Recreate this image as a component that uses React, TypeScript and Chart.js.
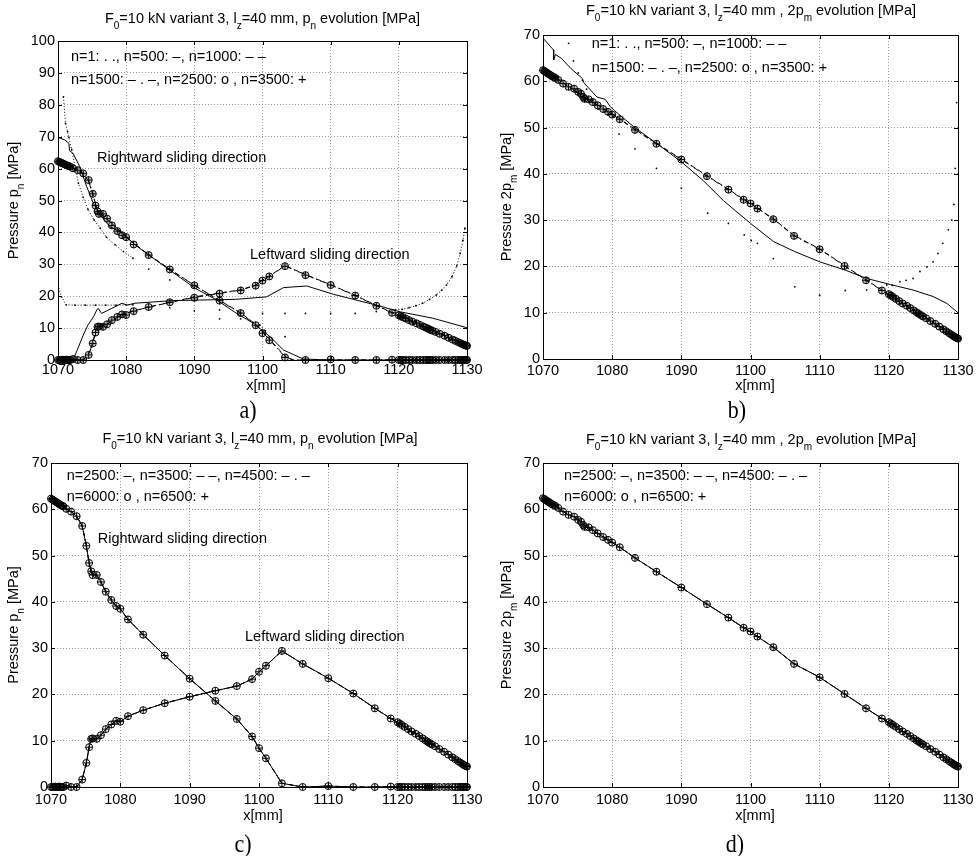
import React, { useEffect, useRef } from "react";
import { Chart, registerables } from "chart.js";

Chart.register(...registerables);

const W = 979;
const H = 856;
const SANS = "'Liberation Sans', Arial, Helvetica, sans-serif";
const SERIF = "'Liberation Serif', 'DejaVu Serif', serif";
const FS = 14.5;
const SUB_FS = 10;
const GRID = "#9a9a9a";
const YW = 50; // fixed width of the y-axis box
const XH = 30; // fixed height of the x-axis box

// ---- mesh node positions along the contact [mm] ----
const X_NODES = [
  1070, 1070.2, 1070.4, 1070.6, 1070.8, 1071.0, 1071.2, 1071.4, 1071.6, 1071.8,
  1072.2, 1072.9, 1073.7, 1074.5, 1075.1, 1075.5, 1075.8, 1076.0, 1076.6, 1077.2,
  1077.9, 1078.7, 1079.4, 1080.0, 1081.1, 1083.3, 1086.4, 1090.0, 1093.7, 1096.8,
  1099.0, 1100.0, 1101.0, 1103.3, 1106.3, 1110.0, 1113.6, 1116.7, 1119.0, 1120.0,
  1120.3, 1120.6, 1121.0, 1121.5, 1122.0, 1122.6, 1123.1, 1123.6, 1124.0, 1124.3,
  1124.6, 1124.9, 1125.4, 1126.0, 1126.7, 1127.3, 1127.9, 1128.3, 1128.7, 1129.0,
  1129.3, 1129.5, 1129.7, 1129.9, 1130.0,
];

// converged p_n, rightward sliding [MPa]
const PN_RIGHT = [
  62.3, 62.1, 61.9, 61.7, 61.5, 61.3, 61.1, 60.9, 60.8, 60.6,
  60.1, 59.5, 58.5, 56.4, 52.1, 48.4, 46.6, 45.8, 45.8, 44.3,
  42.2, 40.4, 39.1, 38.5, 36.2, 32.9, 28.4, 23.4, 18.6, 14.7,
  10.9, 8.4, 6.2, 0.8, 0.0, 0.2, 0.0, 0.0, 0.1, 0.0,
  0.0, 0.0, 0.0, 0.0, 0.0, 0.0, 0.0, 0.0, 0.0, 0.0,
  0.0, 0.0, 0.0, 0.0, 0.0, 0.0, 0.0, 0.0, 0.0, 0.0,
  0.0, 0.0, 0.0, 0.0, 0.0,
];

// converged p_n, leftward sliding [MPa]
const PN_LEFT = [
  0.0, 0.0, 0.0, 0.1, 0.0, 0.0, 0.1, 0.0, 0.0, 0.0,
  0.3, 0.0, 0.0, 1.6, 5.2, 8.6, 10.4, 10.5, 10.4, 11.2,
  12.5, 13.5, 14.3, 14.1, 15.3, 16.6, 18.1, 19.5, 20.8, 21.8,
  23.3, 24.9, 26.2, 29.4, 26.6, 23.5, 20.2, 17.0, 14.8, 14.0,
  13.7, 13.4, 13.0, 12.5, 12.0, 11.5, 11.0, 10.5, 10.1, 9.8,
  9.5, 9.2, 8.8, 8.2, 7.6, 7.0, 6.4, 6.0, 5.6, 5.3,
  5.0, 4.8, 4.6, 4.5, 4.4,
];

// converged 2p_m [MPa]
const PM2 = [
  62.4, 62.2, 62.0, 61.8, 61.6, 61.4, 61.2, 61.0, 60.9, 60.7,
  60.3, 59.5, 58.8, 58.4, 57.7, 57.3, 56.6, 56.2, 56.1, 55.5,
  54.8, 54.0, 53.4, 52.8, 51.8, 49.5, 46.5, 43.1, 39.5, 36.6,
  34.4, 33.6, 32.5, 30.2, 26.6, 23.7, 20.1, 17.0, 14.8, 14.0,
  13.7, 13.4, 13.0, 12.5, 12.0, 11.5, 11.0, 10.5, 10.1, 9.8,
  9.5, 9.2, 8.8, 8.2, 7.6, 7.0, 6.4, 6.0, 5.6, 5.3,
  5.0, 4.8, 4.6, 4.5, 4.4,
];

// ---- early cycles, p_n ----
const A_N1_RIGHT_X = [1070.8, 1071.1, 1071.4, 1071.6, 1072.0, 1073.0, 1073.7, 1074.4, 1075.3, 1076.2, 1077.1, 1078.4, 1079.6, 1081.0, 1083.3, 1086.4, 1090.0, 1093.7, 1096.8, 1099.6, 1100.4, 1103.3];
const A_N1_RIGHT_P = [82.5, 74.2, 71.6, 69.8, 66.0, 55.4, 51.0, 47.2, 43.9, 41.3, 38.5, 36.1, 34.0, 31.9, 28.5, 25.1, 19.8, 15.7, 12.9, 11.0, 9.2, 7.3];
const A_N1_LEFT_X = [1070.0, 1070.5, 1071.2, 1072.5, 1074.0, 1075.5, 1077.0, 1078.5, 1080.0, 1081.0, 1083.3, 1086.4, 1090.0, 1093.7, 1096.8, 1100.0, 1103.3, 1106.3, 1110.0, 1113.6, 1116.7, 1119.5, 1120.5, 1121.5, 1122.5, 1123.5, 1124.5, 1125.5, 1126.3, 1127.0, 1127.8, 1128.5, 1129.0, 1129.4, 1129.7];
const A_N1_LEFT_P = [23.5, 19.8, 17.3, 17.2, 17.2, 17.2, 17.2, 17.2, 17.3, 17.3, 16.5, 16.4, 15.4, 12.9, 14.6, 14.6, 14.6, 14.6, 14.6, 14.6, 15.2, 15.7, 15.9, 16.4, 17.0, 17.8, 19.0, 20.4, 21.9, 23.5, 26.1, 29.5, 33.4, 37.5, 41.3];

const A_N500_RIGHT_X = [1070, 1071.0, 1071.6, 1071.7, 1072.2, 1073.2, 1074.2, 1075.2, 1076.2, 1077.6, 1079.6, 1081.0, 1083.0, 1086.4, 1090.1, 1093.3, 1096.2, 1098.7, 1101.1, 1103.1, 1106.0, 1110.0, 1130];
const A_N500_RIGHT_P = [69.8, 69.0, 67.9, 65.6, 64.8, 60.6, 54.4, 49.1, 45.5, 41.8, 39.7, 36.6, 33.4, 28.2, 22.5, 18.8, 14.6, 11.5, 7.3, 3.1, 0.3, 0.0, 0.0];
const A_N500_LEFT_X = [1070, 1072.2, 1072.8, 1073.7, 1074.4, 1075.2, 1075.7, 1075.9, 1076.4, 1077.9, 1079.4, 1080.1, 1081.3, 1086.7, 1090.8, 1096.0, 1100.6, 1103.1, 1106.5, 1110.4, 1116.7, 1120.2, 1125.0, 1130];
const A_N500_LEFT_P = [0.0, 0.0, 3.0, 7.8, 11.0, 13.5, 15.7, 16.2, 14.6, 16.2, 17.8, 17.2, 17.8, 18.6, 18.8, 19.0, 19.8, 22.7, 23.2, 20.6, 17.2, 15.1, 13.1, 10.1];

const A_RIGHT_X = [1070, 1072.2, 1073.7, 1074.5, 1075.1, 1075.8, 1077.2, 1080.0, 1083.3, 1086.4, 1090.0, 1093.7, 1096.8, 1099.0, 1101.0, 1103.3, 1104.5, 1130];
const A_N1000_RIGHT_P = [62.3, 60.3, 58.4, 56.0, 52.0, 46.8, 44.2, 38.5, 33.0, 28.5, 23.4, 18.7, 14.8, 11.2, 6.6, 1.2, 0.0, 0.0];
const A_N1500_RIGHT_P = [62.3, 60.2, 58.5, 56.3, 52.1, 46.7, 44.3, 38.5, 32.9, 28.4, 23.4, 18.6, 14.7, 11.0, 6.4, 1.0, 0.0, 0.0];
const A_LEFT_X = [1070, 1073.7, 1074.5, 1075.1, 1075.5, 1075.8, 1077.2, 1079.4, 1081.1, 1083.3, 1086.4, 1090.0, 1093.7, 1096.8, 1099.0, 1100.0, 1101.0, 1103.3, 1106.3, 1110.0, 1113.6, 1116.7, 1119.0, 1120.0, 1130];
const A_N1000_LEFT_P = [0.0, 0.0, 1.8, 5.5, 8.8, 10.5, 11.3, 14.3, 15.4, 16.6, 18.0, 19.8, 21.0, 22.0, 23.5, 25.0, 26.3, 29.6, 26.8, 23.6, 20.3, 17.1, 14.9, 14.1, 4.6];
const A_N1500_LEFT_P = [0.0, 0.0, 1.7, 5.3, 8.7, 10.4, 11.2, 14.3, 15.3, 16.6, 18.1, 19.6, 20.9, 21.9, 23.4, 25.0, 26.2, 29.5, 26.7, 23.5, 20.2, 17.0, 14.8, 14.1, 4.5];

// ---- early cycles, 2p_m ----
const B_N1_X = [1073.7, 1074.4, 1075.1, 1075.7, 1076.3, 1077.2, 1078.0, 1079.4, 1080.2, 1081.0, 1083.3, 1086.4, 1090.0, 1093.8, 1096.8, 1099.1, 1100.1, 1101.0, 1103.3, 1106.4, 1110.0, 1113.7, 1116.8, 1119.7, 1120.5, 1121.6, 1122.5, 1123.5, 1124.5, 1125.5, 1126.4, 1127.1, 1127.8, 1128.6, 1129.1, 1129.4, 1129.6, 1129.8];
const B_N1_P = [68.2, 64.4, 61.8, 60.2, 58.3, 56.0, 54.0, 52.8, 52.3, 48.6, 45.4, 41.2, 36.9, 31.5, 29.3, 26.8, 25.6, 25.0, 21.7, 15.6, 13.8, 14.8, 14.9, 16.0, 15.9, 16.7, 17.0, 17.4, 18.9, 19.9, 21.0, 22.8, 25.0, 27.9, 30.0, 33.4, 41.2, 55.4];
const B_N500_X = [1070, 1071.5, 1071.55, 1071.8, 1072.7, 1074.0, 1075.7, 1075.9, 1077.8, 1079.0, 1079.7, 1080.3, 1083.1, 1086.4, 1090.0, 1093.2, 1096.1, 1100.0, 1103.3, 1106.4, 1110.0, 1113.7, 1116.8, 1120.2, 1123.5, 1126.4, 1128.4, 1130];
const B_N500_P = [69.3, 66.8, 64.6, 65.8, 64.9, 62.8, 60.6, 59.7, 56.6, 56.1, 54.6, 53.7, 50.2, 46.6, 42.6, 38.5, 34.2, 29.3, 25.4, 23.2, 21.0, 19.2, 17.4, 16.1, 14.9, 13.5, 12.0, 10.0];
const B_X = [1070, 1072.2, 1073.7, 1075.8, 1077.2, 1080.0, 1081.1, 1083.3, 1086.4, 1090.0, 1093.7, 1096.8, 1099.0, 1100.0, 1101.0, 1103.3, 1106.3, 1110.0, 1113.6, 1116.7, 1119.0, 1120.0, 1125.0, 1130];
const B_N1000_P = [62.4, 60.4, 58.9, 56.8, 55.5, 52.9, 51.9, 49.6, 46.6, 43.2, 39.6, 36.7, 34.5, 33.7, 32.6, 30.3, 26.7, 23.8, 20.2, 17.1, 14.9, 14.0, 9.2, 4.5];
const B_N1500_P = [62.4, 60.3, 58.8, 56.6, 55.5, 52.8, 51.8, 49.5, 46.5, 43.1, 39.5, 36.6, 34.4, 33.6, 32.5, 30.2, 26.6, 23.7, 20.1, 17.0, 14.8, 13.9, 9.1, 4.4];

const X_TICKS_MIN = 1070;
const X_TICKS_MAX = 1130;

type Part = { t: string; sub?: boolean };

const TITLE_PN: Part[] = [
  { t: "F" }, { t: "0", sub: true }, { t: "=10 kN variant 3, l" }, { t: "z", sub: true },
  { t: "=40 mm, p" }, { t: "n", sub: true }, { t: " evolution [MPa]" },
];
const TITLE_PM: Part[] = [
  { t: "F" }, { t: "0", sub: true }, { t: "=10 kN variant 3, l" }, { t: "z", sub: true },
  { t: "=40 mm , 2p" }, { t: "m", sub: true }, { t: " evolution [MPa]" },
];
const YLAB_PN: Part[] = [{ t: "Pressure p" }, { t: "n", sub: true }, { t: " [MPa]" }];
const YLAB_PM: Part[] = [{ t: "Pressure 2p" }, { t: "m", sub: true }, { t: " [MPa]" }];

const LEGEND_EARLY = ["n=1: . ., n=500: –, n=1000: – –", "n=1500: – . –, n=2500: o , n=3500: +"];
const LEGEND_LATE = ["n=2500: –, n=3500: – –, n=4500: – . –", "n=6000: o , n=6500: +"];

const DASH = [5, 3];
const DASHDOT = [5, 3, 1, 3];

function pts(xs: number[], ys: number[]) {
  return xs.map((x, i) => ({ x, y: ys[i] }));
}

function lineDs(data: any[], dash: number[] = []) {
  return {
    data,
    showLine: true,
    borderColor: "#000",
    borderWidth: 1,
    borderDash: dash,
    pointRadius: 0,
    tension: 0,
    fill: false,
  };
}

function markerDs(data: any[], style: string, fill: string) {
  return {
    data,
    showLine: false,
    pointStyle: style,
    pointRadius: 3.5,
    pointBorderWidth: 1,
    pointBorderColor: "#000",
    pointBackgroundColor: fill,
    borderColor: "#000",
    backgroundColor: fill,
    clip: false,
  };
}

// n=1 curves: small dots at the nodes, joined by a dotted line only where nodes are dense
function dotsDs(data: any[], maxGapPx: number) {
  return {
    data,
    showLine: maxGapPx > 0,
    borderColor: "#000",
    borderWidth: 1,
    borderDash: [1, 2],
    pointRadius: 0.9,
    pointStyle: "circle",
    pointBackgroundColor: "#000",
    pointBorderWidth: 0,
    tension: 0,
    segment: {
      borderColor: (ctx: any) => (ctx.p1.x - ctx.p0.x > maxGapPx ? "rgba(0,0,0,0)" : "#000"),
    },
  };
}

type Spec = {
  key: string;
  box: { l: number; t: number; r: number; b: number };
  yMax: number;
  xTickPad: number;
  title: Part[];
  titleX: number;
  titleY: number;
  legend: string[];
  legendX: number;
  legendY: number[];
  notes: { t: string; x: number; y: number }[];
  ylabel: Part[];
  ylabelX: number;
  ylabelY: number;
  xlabelX: number;
  xlabelY: number;
  caption: string;
  captionX: number;
  captionY: number;
  datasets: () => any[];
};

const FILL_EARLY = "rgba(0,0,0,0.18)";
const FILL_LATE = "rgba(255,255,255,0)";

const SPECS: Spec[] = [
  {
    key: "a",
    box: { l: 58, t: 41, r: 467, b: 360 },
    yMax: 100,
    xTickPad: 1,
    title: TITLE_PN,
    titleX: 262.5,
    titleY: 22.7,
    legend: LEGEND_EARLY,
    legendX: 71,
    legendY: [61, 84],
    notes: [
      { t: "Rightward sliding direction", x: 97, y: 161.5 },
      { t: "Leftward sliding direction", x: 250, y: 259 },
    ],
    ylabel: YLAB_PN,
    ylabelX: 18,
    ylabelY: 200.5,
    xlabelX: 266,
    xlabelY: 390,
    caption: "a)",
    captionX: 248,
    captionY: 418,
    datasets: () => [
      dotsDs(pts(A_N1_RIGHT_X, A_N1_RIGHT_P), 11),
      dotsDs(pts(A_N1_LEFT_X, A_N1_LEFT_P), 11),
      lineDs(pts(A_N500_RIGHT_X, A_N500_RIGHT_P)),
      lineDs(pts(A_N500_LEFT_X, A_N500_LEFT_P)),
      lineDs(pts(A_RIGHT_X, A_N1000_RIGHT_P), DASH),
      lineDs(pts(A_LEFT_X, A_N1000_LEFT_P), DASH),
      lineDs(pts(A_RIGHT_X, A_N1500_RIGHT_P), DASHDOT),
      lineDs(pts(A_LEFT_X, A_N1500_LEFT_P), DASHDOT),
      markerDs(pts(X_NODES, PN_RIGHT), "circle", FILL_EARLY),
      markerDs(pts(X_NODES, PN_LEFT), "circle", FILL_EARLY),
      markerDs(pts(X_NODES, PN_RIGHT), "cross", FILL_EARLY),
      markerDs(pts(X_NODES, PN_LEFT), "cross", FILL_EARLY),
    ],
  },
  {
    key: "b",
    box: { l: 543, t: 35, r: 958, b: 359 },
    yMax: 70,
    xTickPad: 3,
    title: TITLE_PM,
    titleX: 751,
    titleY: 15,
    legend: LEGEND_EARLY,
    legendX: 591.7,
    legendY: [48.3, 71.7],
    notes: [],
    ylabel: YLAB_PM,
    ylabelX: 511,
    ylabelY: 197,
    xlabelX: 755,
    xlabelY: 390,
    caption: "b)",
    captionX: 737,
    captionY: 418,
    datasets: () => [
      dotsDs(pts(B_N1_X, B_N1_P), 0),
      lineDs(pts(B_N500_X, B_N500_P)),
      lineDs(pts(B_X, B_N1000_P), DASH),
      lineDs(pts(B_X, B_N1500_P), DASHDOT),
      markerDs(pts(X_NODES, PM2), "circle", FILL_EARLY),
      markerDs(pts(X_NODES, PM2), "cross", FILL_EARLY),
    ],
  },
  {
    key: "c",
    box: { l: 51, t: 463, r: 467, b: 787 },
    yMax: 70,
    xTickPad: 4,
    title: TITLE_PN,
    titleX: 260,
    titleY: 443,
    legend: LEGEND_LATE,
    legendX: 66.7,
    legendY: [480, 500.7],
    notes: [
      { t: "Rightward sliding direction", x: 97.7, y: 543 },
      { t: "Leftward sliding direction", x: 245, y: 641 },
    ],
    ylabel: YLAB_PN,
    ylabelX: 18,
    ylabelY: 625,
    xlabelX: 263,
    xlabelY: 820,
    caption: "c)",
    captionX: 243,
    captionY: 852,
    datasets: () => [
      lineDs(pts(X_NODES, PN_RIGHT)),
      lineDs(pts(X_NODES, PN_LEFT)),
      lineDs(pts(X_NODES, PN_RIGHT), DASH),
      lineDs(pts(X_NODES, PN_LEFT), DASH),
      lineDs(pts(X_NODES, PN_RIGHT), DASHDOT),
      lineDs(pts(X_NODES, PN_LEFT), DASHDOT),
      markerDs(pts(X_NODES, PN_RIGHT), "circle", FILL_LATE),
      markerDs(pts(X_NODES, PN_LEFT), "circle", FILL_LATE),
      markerDs(pts(X_NODES, PN_RIGHT), "cross", FILL_LATE),
      markerDs(pts(X_NODES, PN_LEFT), "cross", FILL_LATE),
    ],
  },
  {
    key: "d",
    box: { l: 543, t: 463, r: 958, b: 787 },
    yMax: 70,
    xTickPad: 4,
    title: TITLE_PM,
    titleX: 751,
    titleY: 444,
    legend: LEGEND_LATE,
    legendX: 564,
    legendY: [480, 500.7],
    notes: [],
    ylabel: YLAB_PM,
    ylabelX: 511,
    ylabelY: 625,
    xlabelX: 755,
    xlabelY: 820,
    caption: "d)",
    captionX: 735,
    captionY: 852,
    datasets: () => [
      lineDs(pts(X_NODES, PM2)),
      lineDs(pts(X_NODES, PM2), DASH),
      lineDs(pts(X_NODES, PM2), DASHDOT),
      markerDs(pts(X_NODES, PM2), "circle", FILL_LATE),
      markerDs(pts(X_NODES, PM2), "cross", FILL_LATE),
    ],
  },
];

function font(size: number) {
  return `${size}px ${SANS}`;
}

// text with subscripts; align left or center around x, baseline at y
function drawParts(ctx: CanvasRenderingContext2D, parts: Part[], x: number, y: number, align: "left" | "center") {
  ctx.textAlign = "left";
  ctx.textBaseline = "alphabetic";
  let w = 0;
  for (const p of parts) {
    ctx.font = font(p.sub ? SUB_FS : FS);
    w += ctx.measureText(p.t).width;
  }
  let cx = align === "center" ? x - w / 2 : x;
  for (const p of parts) {
    ctx.font = font(p.sub ? SUB_FS : FS);
    ctx.fillText(p.t, cx, p.sub ? y + 6 : y);
    cx += ctx.measureText(p.t).width;
  }
}

function makeDecor(s: Spec) {
  return {
    id: "decor-" + s.key,
    afterDraw(chart: any) {
      const ctx: CanvasRenderingContext2D = chart.ctx;
      const a = chart.chartArea;
      const xs = chart.scales.x;
      const ys = chart.scales.y;
      ctx.save();
      ctx.setLineDash([]);
      ctx.strokeStyle = "#000";
      ctx.lineWidth = 1;
      // axes box
      ctx.strokeRect(a.left + 0.5, a.top + 0.5, a.right - a.left, a.bottom - a.top);
      // inward tick marks on all four sides
      ctx.beginPath();
      for (const t of xs.ticks) {
        if (t.value <= xs.min || t.value >= xs.max) continue;
        const px = Math.round(xs.getPixelForValue(t.value)) + 0.5;
        ctx.moveTo(px, a.bottom);
        ctx.lineTo(px, a.bottom - 4);
        ctx.moveTo(px, a.top);
        ctx.lineTo(px, a.top + 4);
      }
      for (const t of ys.ticks) {
        if (t.value <= ys.min || t.value >= ys.max) continue;
        const py = Math.round(ys.getPixelForValue(t.value)) + 0.5;
        ctx.moveTo(a.left, py);
        ctx.lineTo(a.left + 4, py);
        ctx.moveTo(a.right, py);
        ctx.lineTo(a.right - 4, py);
      }
      ctx.stroke();

      ctx.fillStyle = "#000";
      drawParts(ctx, s.title, s.titleX, s.titleY, "center");
      ctx.font = font(FS);
      ctx.textAlign = "left";
      ctx.fillText(s.legend[0], s.legendX, s.legendY[0]);
      ctx.fillText(s.legend[1], s.legendX, s.legendY[1]);
      for (const n of s.notes) ctx.fillText(n.t, n.x, n.y);

      ctx.font = font(FS);
      ctx.textAlign = "center";
      ctx.fillText("x[mm]", s.xlabelX, s.xlabelY);

      ctx.save();
      ctx.translate(s.ylabelX, s.ylabelY);
      ctx.rotate(-Math.PI / 2);
      drawParts(ctx, s.ylabel, 0, 0, "center");
      ctx.restore();

      ctx.save();
      ctx.translate(s.captionX, s.captionY);
      ctx.scale(1, 1.12);
      ctx.font = `22px ${SERIF}`;
      ctx.textAlign = "center";
      ctx.fillText(s.caption, 0, 0);
      ctx.restore();

      ctx.restore();
    },
  };
}

function buildConfig(s: Spec): any {
  const tickFont = { family: SANS, size: FS };
  return {
    type: "scatter",
    data: { datasets: s.datasets() },
    options: {
      responsive: false,
      animation: false,
      events: [],
      layout: {
        padding: {
          left: s.box.l - YW,
          top: s.box.t,
          right: W - s.box.r,
          bottom: H - s.box.b - XH,
        },
      },
      plugins: {
        legend: { display: false },
        tooltip: { enabled: false },
        title: { display: false },
      },
      scales: {
        x: {
          type: "linear",
          min: X_TICKS_MIN,
          max: X_TICKS_MAX,
          afterFit: (sc: any) => {
            sc.height = XH;
          },
          ticks: {
            stepSize: 10,
            autoSkip: false,
            maxRotation: 0,
            padding: s.xTickPad,
            color: "#000",
            font: tickFont,
            callback: (v: any) => String(v),
          },
          grid: { drawTicks: false, color: GRID, lineWidth: 1 },
          border: { display: false, dash: [1, 2] },
        },
        y: {
          type: "linear",
          min: 0,
          max: s.yMax,
          afterFit: (sc: any) => {
            sc.width = YW;
          },
          ticks: {
            stepSize: 10,
            autoSkip: false,
            padding: 3,
            color: "#000",
            font: tickFont,
            callback: (v: any) => String(v),
          },
          grid: { drawTicks: false, color: GRID, lineWidth: 1 },
          border: { display: false, dash: [1, 2] },
        },
      },
    },
    plugins: [makeDecor(s)],
  };
}

function PanelChart({ spec }: { spec: Spec }) {
  const ref = useRef<HTMLCanvasElement>(null);
  useEffect(() => {
    if (!ref.current) return;
    const chart = new Chart(ref.current, buildConfig(spec));
    return () => chart.destroy();
  }, [spec]);
  return (
    <canvas
      ref={ref}
      width={W}
      height={H}
      style={{ position: "absolute", left: 0, top: 0 }}
    />
  );
}

export default function App() {
  return (
    <div
      style={{
        position: "fixed",
        left: 0,
        top: 0,
        width: W,
        height: H,
        background: "#fff",
        overflow: "hidden",
      }}
    >
      {SPECS.map((s) => (
        <PanelChart key={s.key} spec={s} />
      ))}
    </div>
  );
}
